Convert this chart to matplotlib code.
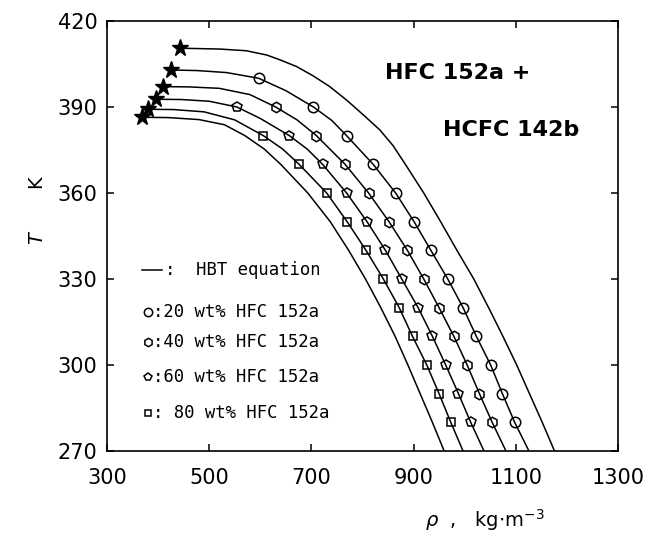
#!/usr/bin/env python3

import matplotlib
matplotlib.use("Agg")
import matplotlib.pyplot as plt

# Critical points (stars): density kg/m3, temperature K
crit_rho = [442, 425, 410, 396, 381, 368]
crit_T = [410.5, 402.9, 397.1, 392.7, 389.2, 386.4]

# HBT equation curves
rho_142b = [442, 521, 573, 613, 639, 671, 704, 736, 769, 802, 834, 860, 884,
            920, 953, 985, 1018, 1047, 1075, 1102, 1127, 1152, 1176]
T_142b = [410.5, 410.2, 409.6, 408.1, 406.4, 404.1, 400.8, 397.1, 392.4, 387.2,
          382, 376.5, 370, 360, 350, 340, 330, 320, 310, 300, 290, 280, 270]

rho_c20 = [425, 476, 534, 597, 650, 704, 740, 769, 821, 865, 901, 934, 967,
           997, 1023, 1051, 1074, 1098, 1126]
T_c20 = [402.9, 402.7, 402.0, 400, 395.7, 390, 385.3, 380, 370, 360, 350, 340,
         330, 320, 310, 300, 290, 280, 270]

rho_c40 = [410, 460, 520, 580, 630, 672, 710, 766, 812, 852, 888, 920, 950,
           979, 1005, 1029, 1054, 1081]
T_c40 = [397.1, 397.0, 396.5, 394.3, 390, 385.5, 380, 370, 360, 350, 340, 330,
         320, 310, 300, 290, 280, 270]

rho_c60 = [396, 445, 500, 554, 600, 657, 692, 722, 769, 809, 845, 877, 909,
           937, 963, 988, 1012, 1038]
T_c60 = [392.7, 392.6, 392.0, 390, 386, 380, 375.3, 370, 360, 350, 340, 330,
         320, 310, 300, 290, 280, 270]

rho_c80 = [381, 430, 490, 550, 606, 644, 676, 730, 770, 807, 841, 872, 898,
           926, 950, 973, 997]
T_c80 = [389.2, 389.1, 388.3, 385.5, 380, 375.3, 370, 360, 350, 340, 330, 320,
         310, 300, 290, 280, 270]

rho_152a = [368, 420, 480, 530, 570, 608, 640, 693, 737, 773, 806, 836, 864,
            889, 913, 937, 960]
T_152a = [386.4, 386.3, 385.6, 383.8, 380, 375.3, 370, 360, 350, 340, 330, 320,
          310, 300, 290, 280, 270]

# Measured points
T_20 = [400, 390, 380, 370, 360, 350, 340, 330, 320, 310, 300, 290, 280]
rho_20 = [597, 704, 769, 821, 865, 901, 934, 967, 997, 1023, 1051, 1074, 1098]

T_40 = [390, 380, 370, 360, 350, 340, 330, 320, 310, 300, 290, 280]
rho_40 = [630, 710, 766, 812, 852, 888, 920, 950, 979, 1005, 1029, 1054]

T_60 = [390, 380, 370, 360, 350, 340, 330, 320, 310, 300, 290, 280]
rho_60 = [554, 657, 722, 769, 809, 845, 877, 909, 937, 963, 988, 1012]

T_80 = [380, 370, 360, 350, 340, 330, 320, 310, 300, 290, 280]
rho_80 = [606, 676, 730, 770, 807, 841, 872, 898, 926, 950, 973]

legend_labels = [":  HBT equation", ":20 wt% HFC 152a", ":40 wt% HFC 152a",
                 ":60 wt% HFC 152a", ": 80 wt% HFC 152a"]

fig = plt.figure(figsize=(6.5, 5.37), dpi=100)
ax = fig.add_axes([0.1646, 0.160, 0.786, 0.801])

lw = 1.1
for r, t in [(rho_142b, T_142b), (rho_c20, T_c20), (rho_c40, T_c40),
             (rho_c60, T_c60), (rho_c80, T_c80), (rho_152a, T_152a)]:
    ax.plot(r, t, "k-", lw=lw)

mk = dict(ls="none", mfc="none", mec="k", mew=1.1)
ax.plot(rho_20, T_20, marker="o", ms=7.5, **mk)
ax.plot(rho_40, T_40, marker="h", ms=7.5, **mk)
ax.plot(rho_60, T_60, marker="p", ms=7.5, **mk)
ax.plot(rho_80, T_80, marker="s", ms=5.5, **mk)
ax.plot(crit_rho, crit_T, ls="none", marker="*", ms=12.5, color="k")

ax.set_xlim(300, 1300)
ax.set_ylim(270, 420)
ax.set_xticks([300, 500, 700, 900, 1100, 1300])
ax.set_yticks([270, 300, 330, 360, 390, 420])
ax.tick_params(direction="in", top=True, right=True, length=5, width=1.1)
ax.tick_params(axis="x", pad=12, labelsize=15)
ax.tick_params(axis="y", pad=7, labelsize=15)
for s in ax.spines.values():
    s.set_linewidth(1.2)

# Legend drawn by hand
ax.plot([0.068, 0.107], [0.421, 0.421], "k-", lw=lw, transform=ax.transAxes)
ax.text(0.113, 0.421, legend_labels[0], transform=ax.transAxes,
        family="DejaVu Sans Mono", fontsize=12.4, va="center")
leg_marks = [("o", 0.324, 6), ("h", 0.254, 6), ("p", 0.173, 6), ("s", 0.088, 4.5)]
for (m, y, ms), lab in zip(leg_marks, legend_labels[1:]):
    ax.plot([0.081], [y], marker=m, ms=ms, transform=ax.transAxes, **mk)
    ax.text(0.090, y, lab, transform=ax.transAxes,
            family="DejaVu Sans Mono", fontsize=12.4, va="center")

ax.text(0.544, 0.879, "HFC 152a +", transform=ax.transAxes, fontsize=16,
        fontweight="bold", va="center")
ax.text(0.657, 0.747, "HCFC 142b", transform=ax.transAxes, fontsize=16,
        fontweight="bold", va="center")

fig.text(0.746, 0.032, r"$\rho$  ,   kg$\cdot$m$^{-3}$", fontsize=14,
         ha="center", va="center")
fig.text(0.058, 0.609, r"$T$       K", fontsize=14, rotation=90,
         ha="center", va="center")

fig.savefig("out.png", dpi=100)
